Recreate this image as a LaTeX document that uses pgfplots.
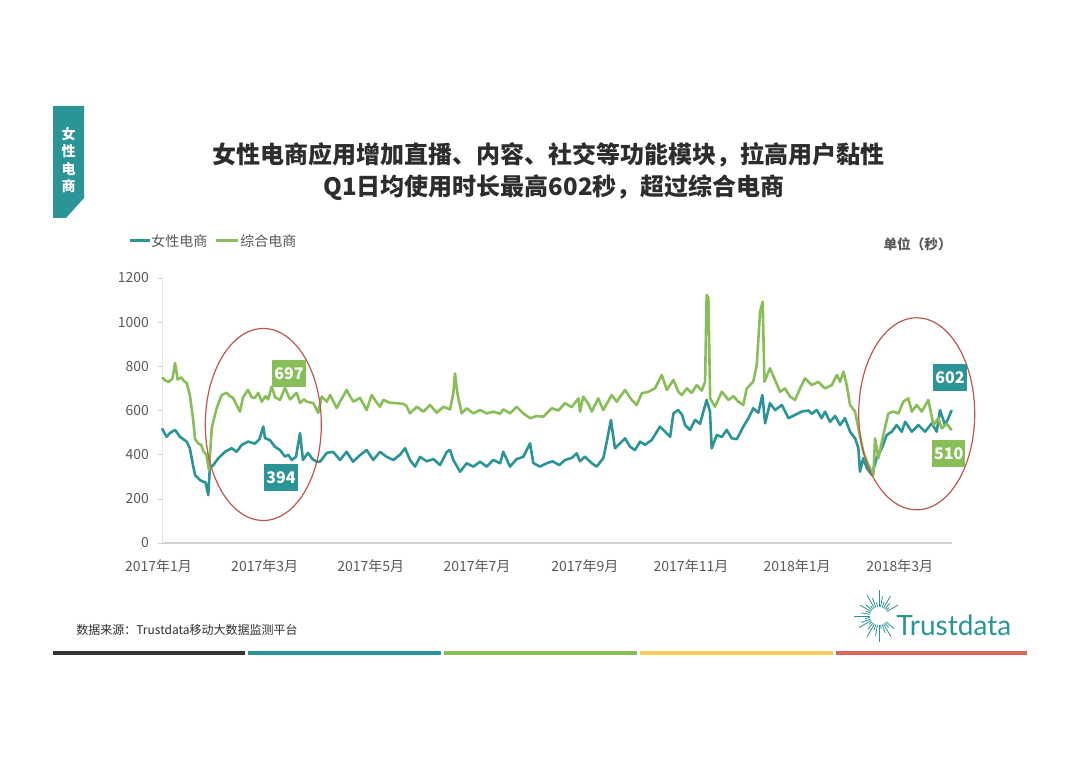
\documentclass[border=0pt]{standalone}
\usepackage{fontspec}
\setmainfont{Noto Sans CJK SC}
\newfontfamily\latofont{Lato}
\usepackage{pgfplots}
\usepackage{pgfplotstable}
\pgfplotsset{compat=1.18}
\definecolor{teal1}{RGB}{42,148,150}
\definecolor{green1}{RGB}{136,190,88}
\definecolor{ellred}{RGB}{190,85,80}
\definecolor{txt}{RGB}{45,45,45}
\definecolor{tick}{RGB}{89,89,89}
\definecolor{bary}{RGB}{242,205,92}
\definecolor{barr}{RGB}{220,100,90}
\definecolor{bard}{RGB}{50,52,55}

\pgfplotstableread{
d v
0 519
2.6 481
4.6 498
7.5 512
10.3 481
14.2 459
16 429
17.8 353
19 308
21.8 285
23.6 278
25 275
26.6 217
27.5 340
29.5 353
32.4 384
36.2 413
40 429
42.9 413
45.8 444
49.6 459
53.4 450
56 470
58.2 527
59.2 475
62 466
64.9 436
67.8 421
70.7 391
72.6 400
74.5 376
77 390
79.3 498
81 376
83.9 408
86.5 380
88.9 368
90.8 368
94.7 408
98.3 413
102.3 376
106.1 413
109.8 368
113.8 398
117.6 421
121.4 376
125.3 413
129.1 390
133 376
136.8 400
139.7 429
142.5 376
145.4 346
148.3 390
152.1 370
156 380
159.8 353
163.7 413
165.5 421
167.4 376
171.3 323
175.1 361
178.9 346
182.8 368
186.6 346
190.4 376
194.3 361
196.1 413
200 346
203.8 380
207.6 390
211.5 451
213.4 362
217.2 346
221 361
224.5 370
228.3 353
231.6 376
235.5 385
238.3 406
240.2 370
243 391
247 361
249.8 346
253.6 384
255.6 459
258 557
260.3 429
263.2 451
266.1 474
269 436
271.8 421
274.7 459
277.6 445
281.4 466
286.2 527
289.1 504
292 481
293.9 587
296.7 602
298.9 580
300.6 534
303.4 512
306.3 557
309.2 540
311.1 595
313 648
314.9 595
315.9 429
318.8 489
321.7 480
324.5 512
327.4 474
330.3 470
334.1 527
337 565
339.8 610
342.7 590
345 670
346.6 542
349.4 633
352.3 602
356.2 625
360 565
363.8 580
367.6 595
371.5 600
373.4 585
376.3 602
379.1 565
381 595
383.9 549
386.8 575
389.7 534
392.5 565
395.4 504
398.3 474
400.2 429
401.1 323
403 384
405 340
407.9 308
410.7 384
413.6 429
416.5 489
419.4 504
422.2 534
425.1 504
427.1 549
430.9 504
434.7 534
438.5 504
442.4 542
445.2 504
447.1 602
450 534
451.9 565
453.8 602
}\tealdata

\pgfplotstableread{
d v
0 750
2 735
4 730
6 745
7.5 815
9 740
11 750
13 730
14.2 725
16 670
17.8 566
19 470
21 450
22.5 444
24 413
25.5 400
27 330
28.6 521
31.4 611
34.3 670
37.2 680
39 665
40.8 657
42.9 625
44.8 595
46.6 660
49.4 693
51.5 660
53.4 657
55.3 680
57.3 640
59.5 665
61 650
63 708
65 660
67.8 648
70.7 702
73.6 650
77.4 680
79.3 634
81.5 650
83.2 640
87 633
89.8 589
91.8 663
94.7 640
96.6 670
100.4 611
103 650
106.1 693
108 665
110 640
113.8 657
117.6 602
120.5 670
123 640
125.3 617
127.2 648
131 635
134.9 633
138.7 630
140.5 620
142.5 587
146.4 617
150.2 595
154 625
157.9 590
161.7 617
165.5 605
167.4 678
168.4 768
169.7 680
172.2 587
175.1 610
178.9 587
182.8 602
186.6 587
190.4 595
194.3 585
196.1 605
200 587
203.8 617
207.6 587
211.5 565
215.3 575
219.1 572
224 610
227.8 600
231.6 633
235.5 615
239.3 655
240.2 595
242.1 663
245 630
247 595
250.7 655
253.6 602
258.4 670
261.3 640
266.1 693
269.9 648
272.8 625
275.7 678
279.5 685
283.3 700
287.2 761
290.1 693
293.9 738
296.7 685
298.7 670
301.6 700
304.4 680
307.3 715
310.2 690
312.1 730
313 1123
314 1110
315 655
317.8 617
321.7 685
325.5 648
328.4 665
331.2 640
334.1 625
336 700
339.8 730
341.8 806
343.7 1048
345.2 1093
346.2 730
349.4 791
352.3 738
355.2 685
358 700
360.9 663
363.8 648
366.7 700
369.5 746
373.4 715
377.2 730
381 700
384.9 715
387.8 761
389.7 730
391.6 776
393.5 715
395.4 625
398.3 595
400.2 519
403 413
405.9 353
408.8 308
409.8 474
411.7 384
414.5 489
417.4 587
420.3 595
423.2 587
426 640
428.9 655
430.9 595
433.7 625
436.6 595
440.4 648
443.3 534
446.1 565
448.1 519
451 540
453.8 510
}\greendata

\begin{document}
\begin{tikzpicture}
\begin{scope}[x=0.5pt,y=-0.5pt]
\fill[white] (0,0) rectangle (1080,763);
% side tab
\fill[teal1] (53,106) -- (84,106) -- (84,198) -- (66,218) -- (53,218) -- cycle;
\node[text=white,font=\fontsize{7}{8.75}\selectfont\bfseries,align=center,inner sep=0pt] at (68.5,160) {女\\性\\电\\商};
% title
\node[text=txt,font=\fontsize{12}{14}\selectfont\bfseries,inner sep=0pt] at (548,155) {女性电商应用增加直播、内容、社交等功能模块，拉高用户黏性};
\node[text=txt,font=\fontsize{12}{14}\selectfont\bfseries,inner sep=0pt] at (554,188) {Q1日均使用时长最高602秒，超过综合电商};
% legend
\draw[teal1,line width=1.5pt] (130,241) -- (150,241);
\node[anchor=west,inner sep=0pt,text=tick,font=\fontsize{7}{8}\selectfont] at (151,241) {女性电商};
\draw[green1,line width=1.5pt] (216,241) -- (238,241);
\node[anchor=west,inner sep=0pt,text=tick,font=\fontsize{7}{8}\selectfont] at (240,241) {综合电商};
\node[anchor=east,inner sep=0pt,text=tick,font=\fontsize{6.8}{8}\selectfont\bfseries] at (952,244) {单位（秒）};
\end{scope}

\begin{axis}[at={(81pt,-271.5pt)}, anchor=south west, scale only axis,
  width=395pt, height=132.5pt,
  xmin=0, xmax=454, ymin=0, ymax=1200,
  axis x line*=bottom, axis y line*=left,
  x axis line style={draw=gray!35, line width=0.7pt, -},
  y axis line style={draw=gray!20, -},
  ytick={0,200,...,1200},
  xtick={0,59,120,181,243,304,365,424},
  xticklabels={{\hspace*{-3.5pt}2017年1月},2017年3月,2017年5月,2017年7月,2017年9月,2017年11月,2018年1月,2018年3月},
  tick label style={font=\fontsize{7}{8}\selectfont, text=tick},
  /pgf/number format/assume math mode=true,
  /pgf/number format/1000 sep={},
  scaled y ticks=false,
  ytick style={draw=gray!40},
  xtick style={draw=none},
  tick align=outside, major tick length=2pt,
  yticklabel style={xshift=-1pt},
  xticklabel style={yshift=-3pt},
  clip=false]
\addplot[teal1, line width=1.3pt, line join=round] table[x=d,y=v]{\tealdata};
\addplot[green1, line width=1.3pt, line join=round] table[x=d,y=v]{\greendata};
\end{axis}

\begin{scope}[x=0.5pt,y=-0.5pt]
% ellipses
\draw[ellred,line width=0.6pt] (263.3,424.5) ellipse [x radius=58, y radius=96];
\draw[ellred,line width=0.6pt] (916.7,413.8) ellipse [x radius=58, y radius=96];
% value labels
\tikzset{vlab/.style={text=white,font=\fontsize{8}{9}\selectfont\bfseries,minimum width=16pt,minimum height=13.5pt,inner sep=1pt}}
\node[vlab,fill=green1] at (289,374) {697};
\node[vlab,fill=teal1] at (281,478) {394};
\node[vlab,fill=teal1] at (950,378) {602};
\node[vlab,fill=green1] at (948.7,453.7) {510};
% source
\node[anchor=west,inner sep=0pt,text=txt,font=\fontsize{6}{7}\selectfont] at (76,630) {数据来源：Trustdata移动大数据监测平台};
% logo
\foreach \a/\r in {40/20,50/15,60/24,70/18,80/13,90/26,100/20,110/15,120/24,130/17,140/13,150/23,160/19,170/14,180/25,190/18,200/14,210/22,220/17,230/13,240/24,250/19,260/14,270/26,280/20,290/15,300/23,310/17,320/13,330/22}
  \draw[teal1,line width=0.4pt] (879,616) ++(\a:9) -- ++(\a:\r-9);
\node[anchor=west,inner sep=0pt,text=teal1,font=\latofont\fontsize{14}{16}\selectfont] at (896,625) {Trustdata};
% bottom bars
\fill[bard] (53,651) rectangle (245,655);
\fill[teal1] (248,651) rectangle (441,655);
\fill[green1] (444,651) rectangle (637,655);
\fill[bary] (640,651) rectangle (833,655);
\fill[barr] (836,651) rectangle (1027,655);
\end{scope}
\end{tikzpicture}
\end{document}
